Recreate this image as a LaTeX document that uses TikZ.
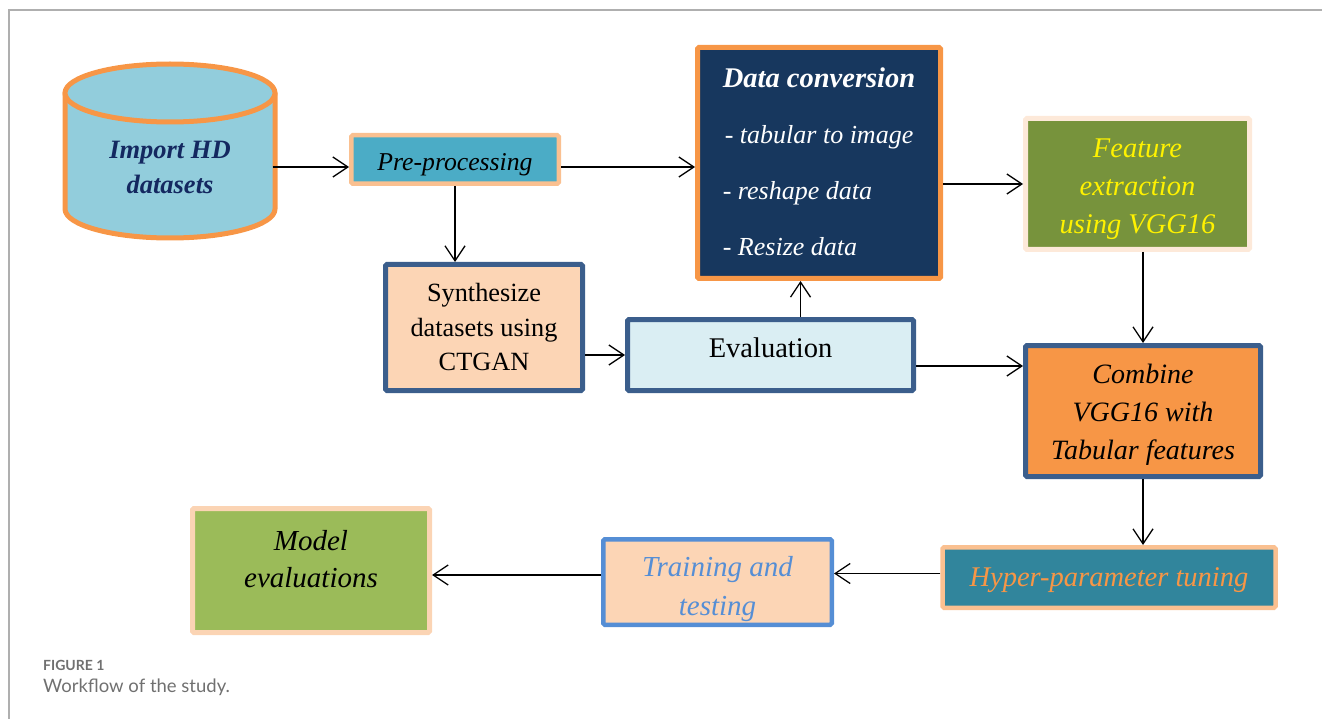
\documentclass[tikz,border=0pt]{standalone}
\usepackage{fontspec}
\setmainfont{Liberation Serif}
\newfontfamily\captionfont{Lato}
\usetikzlibrary{arrows.meta}

\definecolor{cylfill}{RGB}{146,205,220}
\definecolor{orangeline}{RGB}{247,150,70}
\definecolor{navytext}{RGB}{20,40,96}
\definecolor{prefill}{RGB}{75,172,198}
\definecolor{peachline}{RGB}{250,192,144}
\definecolor{convfill}{RGB}{23,55,94}
\definecolor{featfill}{RGB}{119,147,60}
\definecolor{featline}{RGB}{253,233,217}
\definecolor{blueline}{RGB}{59,94,140}
\definecolor{peachfill}{RGB}{252,213,181}
\definecolor{evalfill}{RGB}{218,238,243}
\definecolor{hyperfill}{RGB}{49,133,156}
\definecolor{trainblue}{RGB}{85,142,213}
\definecolor{modelfill}{RGB}{155,187,89}
\definecolor{modelline}{RGB}{251,212,180}
\definecolor{framegray}{RGB}{175,175,175}
\definecolor{capgray}{RGB}{112,112,112}

\begin{document}
\begin{tikzpicture}[x=1pt,y=1pt]

\tikzset{box/.style = {draw, line width=4.5pt, rounded corners=1.5pt, inner sep=0pt, align=center}}
\tikzset{edge/.style = {->, > = {Straight Barb[length=15pt,width=20pt]}, line width=1.3pt}}
\tikzset{cyl/.style = {draw=orangeline, fill=cylfill, line width=5pt, line join=round}}

\useasboundingbox (0,0) rectangle (1322,-719);
\draw[framegray, line width=1.2pt] (1322,-10) -- (9,-10) -- (9,-719);

%database
\filldraw[cyl] (65,-93) -- (65,-209) arc[start angle=180, end angle=360, x radius=105pt, y radius=29pt] -- (275,-93) -- cycle;
\filldraw[cyl] (170,-93) ellipse[x radius=105pt, y radius=29pt];
\node[align=center, inner sep=0pt, minimum width=205pt, text=navytext, font=\fontsize{26.5}{35}\selectfont\bfseries\itshape] (db) at (170,-167) {Import HD\\datasets};

%boxes
\node[box, draw=peachline, fill=prefill, minimum width=207.5pt, minimum height=48.5pt, text height=28pt, font=\fontsize{25.7}{30}\selectfont\itshape] (pre) at (455,-159.5) {Pre-processing};
\node[box, draw=orangeline, fill=convfill, line width=5pt, minimum width=243pt, minimum height=231pt, text=white, font=\fontsize{26}{56}\selectfont\itshape] (conv) at (819,-163)
  {\begin{tabular}{@{}l@{}}\multicolumn{1}{@{}c@{}}{\fontsize{28.5}{56}\selectfont\bfseries Data conversion}\\ \hspace{2pt}- tabular to image\\ - reshape data\\ - Resize data\\[6pt]\end{tabular}};
\node[box, draw=featline, fill=featfill, line width=5pt, minimum width=224pt, minimum height=131pt, text height=105pt, text=yellow, font=\fontsize{28.5}{38}\selectfont\itshape] (feat) at (1137.5,-184) {Feature\\extraction\\using VGG16};
\node[box, draw=blueline, fill=peachfill, line width=5pt, minimum width=197pt, minimum height=126pt, font=\fontsize{26.3}{34.5}\selectfont] (synth) at (484,-327.5) {Synthesize\\datasets using\\CTGAN};
\node[box, draw=blueline, fill=evalfill, line width=5pt, minimum width=286pt, minimum height=71pt, text depth=14pt, font=\fontsize{28.5}{34}\selectfont] (eval) at (770.5,-355) {Evaluation};
\node[box, draw=blueline, fill=orangeline, line width=5pt, minimum width=235pt, minimum height=131pt, text height=103pt, font=\fontsize{28}{38}\selectfont\itshape] (comb) at (1143,-411) {Combine\\VGG16 with\\Tabular features};
\node[box, draw=peachline, fill=hyperfill, minimum width=333pt, minimum height=60.5pt, text height=25pt, text=orangeline, font=\fontsize{28.5}{34}\selectfont\itshape] (hyper) at (1109,-577.5) {Hyper-parameter tuning};
\node[box, draw=trainblue, fill=peachfill, minimum width=228.5pt, minimum height=85.5pt, text height=73pt, text=trainblue, font=\fontsize{29}{39}\selectfont\itshape] (train) at (717.5,-582) {Training and\\testing};
\node[box, draw=modelline, fill=modelfill, line width=5pt, minimum width=237pt, minimum height=124pt, text depth=24pt, font=\fontsize{29}{37}\selectfont\itshape] (model) at (311,-570.5) {Model\\evaluations};

%arrows
\draw[edge] (db.east) -- (db.east -| pre.west);
\draw[edge] (pre.east |- db.east) -- (conv.west |- db.east);
\draw[edge] (conv.east |- feat) -- (feat.west);
\draw[edge] (pre.south) -- (pre.south |- synth.north);
\draw[edge] (synth.east |- eval) -- (eval.west);
\draw[edge] ([xshift=30pt]eval.north) -- ([xshift=30pt]eval.north |- conv.south);
\draw[edge] ([yshift=-11pt]eval.east) -- ([yshift=-11pt]eval.east -| comb.west);
\draw[edge] (feat.south -| comb) -- (comb.north);
\draw[edge] (comb.south) -- (comb.south |- hyper.north);
\draw[edge] ([yshift=4pt]hyper.west) -- ([yshift=4pt]hyper.west -| train.east);
\draw[edge] ([yshift=7pt]train.west) -- ([yshift=7pt]train.west -| model.east);

%caption
\node[anchor=west, inner sep=0pt, text=capgray, font=\captionfont\bfseries\fontsize{14}{16}\selectfont] (fignum) at (43,-665) {FIGURE 1};
\node[anchor=west, inner sep=0pt, text=capgray, font=\captionfont\fontsize{18.5}{22}\selectfont] (figtext) at (43,-687) {Workflow of the study.};

\end{tikzpicture}
\end{document}
